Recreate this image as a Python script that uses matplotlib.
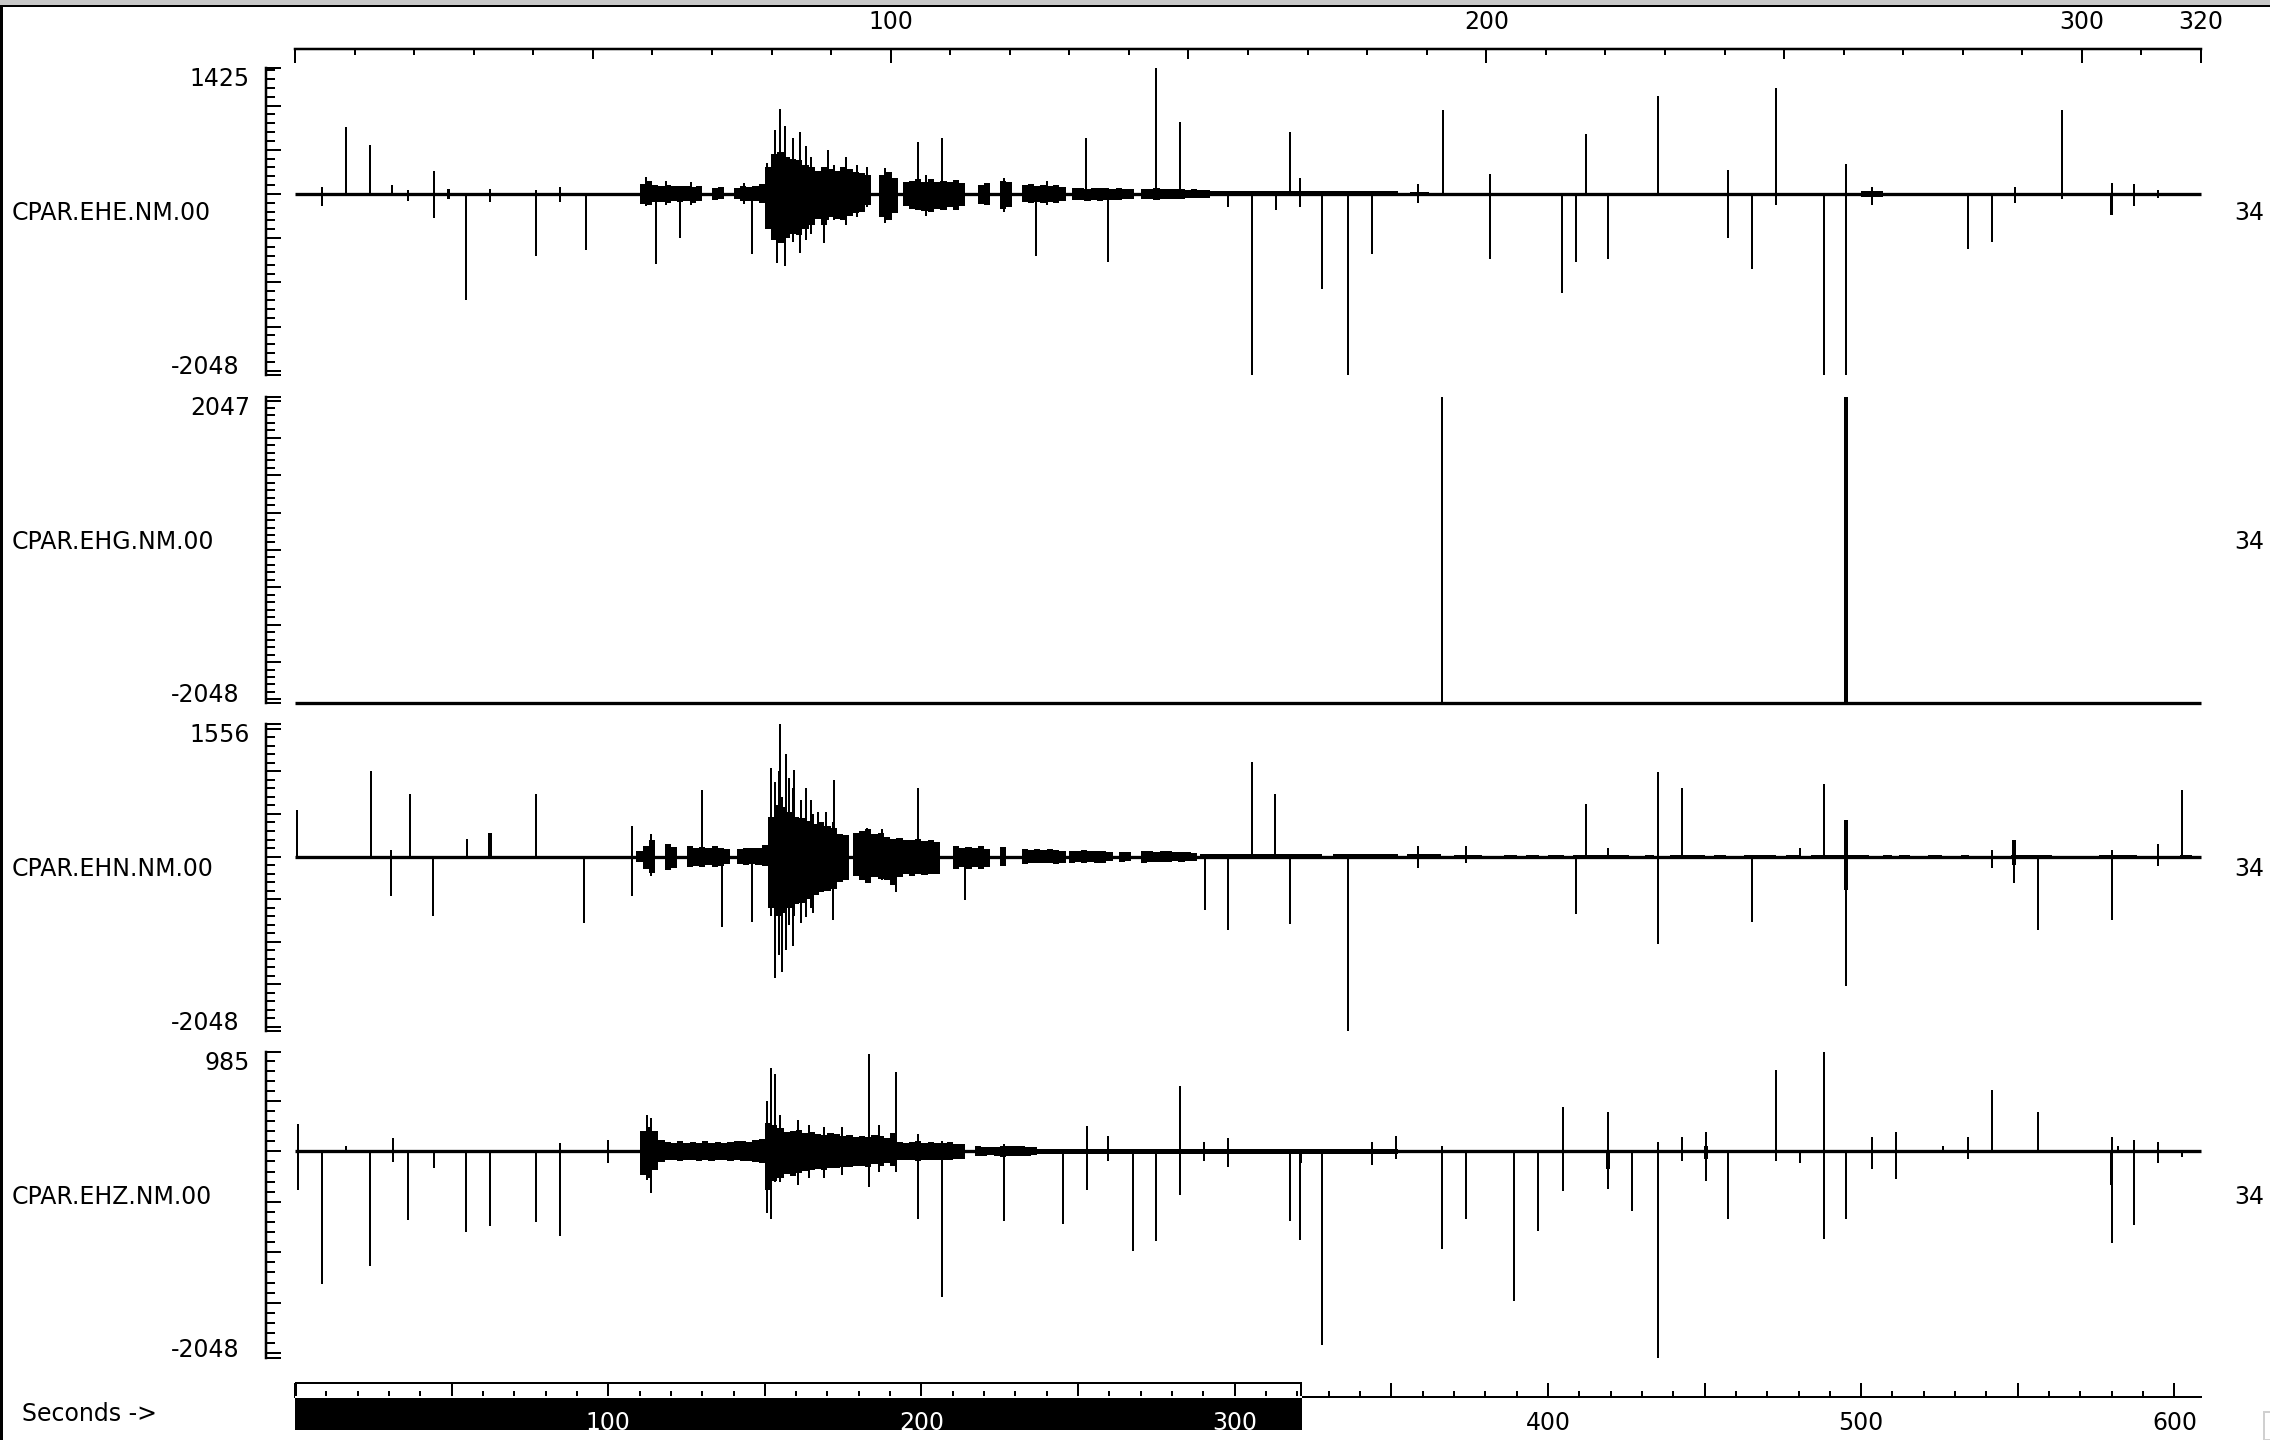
import numpy as np
import matplotlib
matplotlib.use("Agg")
import matplotlib.pyplot as plt
from matplotlib.patches import Rectangle
from matplotlib.ticker import MultipleLocator, FixedLocator, FuncFormatter

# ------------------------------------------------------------------ data
channels = ["CPAR.EHE.NM.00", "CPAR.EHG.NM.00", "CPAR.EHN.NM.00", "CPAR.EHZ.NM.00"]
right_labels = ["34", "34", "34", "34"]
y_top = [1425, 2047, 1556, 985]
y_bottom = [-2048, -2048, -2048, -2048]
trace_base = [0, -2048, 0, 0]
record_seconds = 608.5
top_scale_max = 320
top_tick_labels = [100, 200, 300, 320]
window_end = 321.5
axis_caption = "Seconds ->"

# --- EHE
ehe_spk_t = [8.5, 16.2, 24.1, 31.0, 36.0, 44.4, 54.5, 62.2, 76.9, 84.6,
             92.8, 115.2, 122.9, 146.0, 150.8, 153.3, 154.0, 154.8, 156.5, 159.0,
             161.2, 163.0, 164.7, 168.8, 170.1, 172.0, 176.0, 179.3, 182.6, 198.9,
             206.6, 236.5, 252.5, 259.7, 274.8, 282.5, 297.8, 305.6, 313.3, 317.5,
             320.8, 327.9, 336.2, 343.8, 358.5, 366.4, 381.4, 404.6, 408.9, 412.1,
             419.2, 435.2, 457.5, 465.2, 472.7, 488.1, 495.2, 503.5, 534.0, 541.9,
             549.0, 564.2, 580.0, 587.1, 594.8,
             112.0, 118.5, 126.5, 143.5, 188.5, 201.5, 226.5, 240.0]
ehe_spk_hi = [83, 762, 558, 105, 40, 264, 0, 53, 40, 83,
              0, 0, 0, 0, 350, 720, 0, 961, 770, 630,
              700, 540, 420, 300, 500, 330, 420, 330, 300, 590,
              630, 0, 630, 0, 1420, 810, 0, 0, 0, 697,
              177, 0, 0, 0, 113, 950, 226, 0, 0, 679,
              0, 1108, 271, 0, 1195, 0, 339, 83, 0, 0,
              83, 950, 128, 113, 40,
              196, 150, 130, 120, 290, 210, 180, 150]
ehe_spk_lo = [-140, 0, 0, 0, -75, -275, -1199, -94, -705, -94,
              -633, -792, -501, -680, -300, -500, -785, -400, -810, -540,
              -670, -520, -450, -560, -300, -295, -350, -256, -143, 0,
              0, -700, 0, -765, 0, 0, -143, -2048, -181, 0,
              -143, -1078, -2048, -675, -105, 0, -739, -1123, -765, 0,
              -739, 0, -494, -852, -124, -2048, -2048, -124, -626, -539,
              -100, -60, -241, -132, -40,
              -140, -130, -120, -110, -330, -250, -200, -130]
ehe_env_t = [111, 113, 115, 117, 119, 121, 123, 125, 127, 129,
             134, 136,
             141, 143, 145, 147, 149,
             151, 153, 155, 157, 159, 161, 163, 165, 167, 169, 171, 173, 175, 177, 179, 181, 183,
             187.5, 189.5, 191.5,
             195, 197, 199, 201, 203, 205, 207, 209, 211, 213,
             219, 221,
             226, 228,
             233, 235, 237, 239, 241, 243, 245,
             249, 251, 253, 255, 257, 259, 261, 263, 265, 267,
             271, 273, 275, 277, 279, 281, 283, 285, 287, 289, 291]
ehe_env_hi = [110, 150, 100, 90, 100, 85, 95, 85, 80, 90,
              70, 80,
              70, 90, 80, 95, 110,
              300, 450, 480, 420, 400, 380, 330, 300, 260, 300, 280, 260, 300, 280, 250, 240, 220,
              220, 250, 180,
              130, 150, 170, 140, 170, 130, 150, 140, 160, 120,
              100, 120,
              150, 130,
              100, 110, 90, 105, 95, 100, 80,
              65, 70, 60, 70, 65, 70, 60, 65, 55, 60,
              55, 60, 65, 55, 60, 55, 60, 50, 55, 45, 40]
ehe_env_lo = [-110, -120, -95, -90, -105, -85, -95, -85, -100, -80,
              -65, -60,
              -60, -85, -75, -85, -100,
              -400, -520, -560, -500, -450, -460, -400, -350, -280, -350, -260, -280, -300, -250, -220, -200, -130,
              -260, -290, -220,
              -140, -170, -180, -190, -200, -170, -180, -150, -180, -140,
              -110, -130,
              -170, -150,
              -90, -105, -95, -105, -90, -100, -75,
              -70, -65, -75, -65, -80, -70, -65, -70, -60, -55,
              -60, -55, -65, -60, -60, -55, -60, -50, -50, -45, -40]
ehe_q_start = [292, 356, 500]
ehe_q_end = [352, 362, 507]
ehe_q_amp = [28, 20, 30]
ehe_blk_t = [49.0, 580.0]
ehe_blk_hi = [60, 0]
ehe_blk_lo = [-60, -241]

# --- EHG
ehg_spk_t = [366.3, 495.2]
ehg_spk_hi = [2047, 2047]
ehg_spk_lo = [-2048, -2048]
ehg_blk_t = [495.2]
ehg_blk_hi = [2047]
ehg_blk_lo = [-2048]

# --- EHN
ehn_spk_t = [0.7, 24.3, 30.8, 36.8, 44.2, 54.9, 62.2, 77.0, 92.3, 107.7,
             113.5, 130.0, 136.2, 146.0, 152.1, 153.3, 154.4, 154.9, 155.4, 156.7,
             157.7, 159.0, 159.3, 161.4, 163.0, 164.7, 165.5, 167.1, 169.6, 171.7,
             172.0, 182.6, 187.5, 191.9, 198.9, 214.0, 290.5, 297.8, 305.6, 313.0,
             317.7, 336.1, 358.6, 373.8, 409.0, 412.1, 419.2, 435.2, 442.8, 465.1,
             480.4, 488.2, 495.2, 541.8, 548.8, 556.4, 580.1, 594.7, 602.4]
ehn_spk_hi = [544, 1003, 80, 731, 0, 204, 272, 731, 0, 360,
              262, 783, 0, 0, 1037, 880, 1000, 1556, 700, 1205,
              920, 800, 1017, 665, 802, 665, 500, 528, 528, 400,
              900, 333, 320, 200, 802, 0, 0, 0, 1107, 736,
              0, 0, 125, 125, 0, 618, 106, 994, 806, 0,
              106, 853, 430, 80, 196, 0, 80, 149, 783]
ehn_spk_lo = [0, 0, -459, 0, -697, 0, -30, 0, -782, -458,
              -230, 0, -830, -763, -700, -1420, -1154, 0, -1350, -1096,
              -800, -1045, -700, -783, -704, -600, -665, -450, -400, -743,
              -300, -250, -280, -411, 0, -509, -626, -861, 0, 0,
              -790, -2048, -129, -80, -673, 0, 0, -1025, 0, -763,
              0, 0, -1514, -129, -313, -861, -743, -106, 0]
ehn_env_t = [110, 112, 114,
             119, 121,
             126, 128, 130, 132, 134, 136, 138,
             142, 144, 146, 148, 150,
             152, 154, 156, 158, 160, 162, 164, 166, 168, 170, 172, 174, 176,
             179, 181, 183, 185, 187, 189, 191, 193, 195, 197, 199, 201, 203, 205,
             211, 213, 215, 217, 219, 221,
             226,
             233, 235, 237, 239, 241, 243, 245,
             248, 250, 252, 254, 256, 258, 260,
             264, 266,
             271, 273, 275, 277, 279, 281, 283, 285, 287]
ehn_env_hi = [60, 120, 200,
              150, 110,
              120, 100, 115, 105, 120, 100, 85,
              85, 100, 95, 100, 130,
              470, 600, 580, 520, 470, 450, 420, 380, 400, 360, 330, 270, 250,
              280, 300, 320, 260, 280, 230, 210, 220, 190, 200, 210, 185, 195, 175,
              120, 105, 115, 100, 120, 90,
              110,
              85, 75, 85, 80, 90, 80, 70,
              70, 65, 75, 65, 70, 70, 55,
              55, 50,
              65, 60, 55, 60, 60, 50, 55, 55, 45]
ehn_env_lo = [-60, -150, -196,
              -160, -130,
              -125, -110, -120, -100, -125, -115, -90,
              -90, -100, -85, -100, -110,
              -600, -700, -660, -600, -560, -540, -500, -450, -420, -400, -380, -300, -270,
              -230, -280, -310, -240, -260, -280, -330, -240, -210, -230, -210, -220, -200, -210,
              -150, -125, -145, -120, -150, -125,
              -110,
              -85, -75, -80, -80, -75, -85, -70,
              -80, -65, -75, -65, -70, -80, -55,
              -60, -55,
              -70, -65, -60, -65, -65, -55, -60, -55, -50]
ehn_q_start = [289, 331.5, 355, 370, 386, 393, 400, 408, 431, 439, 453,
               462.5, 476, 484, 507, 512, 521.5, 532, 548, 576, 601.7]
ehn_q_end = [328, 352, 366, 379, 390, 397, 405, 426, 434, 450, 457,
             472.7, 480.6, 502.5, 510, 515.7, 525.8, 534.3, 561, 588, 605.6]
ehn_q_amp = [32, 26, 26, 24, 20, 20, 20, 24, 18, 24, 20,
             24, 20, 24, 18, 18, 18, 15, 20, 20, 15]
ehn_blk_t = [62.2, 495.2, 548.8]
ehn_blk_hi = [272, 430, 196]
ehn_blk_lo = [0, -391, -100]

# --- EHZ
ehz_spk_t = [0.8, 8.5, 16.2, 24.1, 31.4, 36.0, 44.4, 54.5, 62.2, 76.9,
             84.6, 99.8, 112.3, 113.5, 150.8, 152.1, 153.4, 154.9, 160.6, 164.0,
             168.8, 174.5, 183.4, 186.4, 191.9, 198.9, 206.6, 226.4, 245.3, 252.9,
             259.7, 267.4, 275.0, 282.5, 290.3, 297.8, 317.7, 321.0, 328.0, 343.9,
             351.4, 366.2, 374.0, 389.2, 396.9, 404.8, 419.2, 426.9, 435.2, 442.9,
             450.4, 457.5, 472.7, 480.6, 488.1, 495.2, 503.5, 511.0, 526.0, 534.2,
             541.9, 556.5, 580.0, 582.0, 587.1, 594.8, 602.5]
ehz_spk_hi = [267, 0, 50, 0, 132, 0, 0, 0, 0, 0,
              83, 115, 363, 330, 495, 825, 766, 363, 313, 260,
              240, 240, 964, 260, 785, 172, 100, 73, 0, 254,
              155, 0, 0, 650, 92, 132, 0, 0, 0, 92,
              155, 56, 0, 0, 0, 436, 389, 0, 92, 139,
              191, 0, 809, 0, 983, 0, 139, 191, 56, 139,
              610, 389, 139, 50, 116, 92, 0]
ehz_spk_lo = [-380, -1310, 0, -1135, -106, -683, -162, -799, -739, -700,
              -838, -120, -280, -413, -610, -670, -304, -300, -330, -260,
              -260, -230, -356, -200, -200, -673, -1445, -693, -716, -380,
              -100, -990, -891, -436, -100, -158, -693, -875, -1921, -139,
              -76, -967, -670, -1485, -792, -396, -373, -594, -2048, -99,
              -297, -670, -99, -115, -868, -670, -175, -274, 0, -76,
              0, 0, -908, 0, -733, -116, -56]
ehz_env_t = [111, 113, 115, 117, 119, 121, 123, 125, 127, 129,
             131, 133, 135, 137, 139, 141, 143, 145, 147, 149,
             151, 153, 155, 157, 159, 161, 163, 165, 167, 169,
             171, 173, 175, 177, 179, 181, 183, 185, 187, 189,
             191, 193, 195, 197, 199, 201, 203, 205, 207, 209, 211, 213,
             218, 220, 222, 224, 226, 228, 230, 232, 234, 236]
ehz_env_hi = [200, 240, 200, 110, 95, 85, 100, 85, 95, 85,
              100, 85, 95, 85, 95, 100, 105, 95, 115, 125,
              280, 260, 230, 190, 200, 210, 180, 190, 170, 160,
              180, 170, 150, 160, 140, 150, 140, 160, 150, 130,
              180, 95, 85, 95, 105, 85, 95, 80, 85, 95, 75, 70,
              55, 45, 40, 45, 55, 50, 50, 55, 45, 40]
ehz_env_lo = [-230, -260, -180, -110, -85, -85, -95, -85, -85, -95,
              -85, -95, -85, -85, -95, -85, -95, -100, -105, -115,
              -380, -290, -260, -220, -240, -210, -190, -180, -170, -180,
              -160, -160, -150, -150, -140, -140, -150, -130, -140, -120,
              -140, -90, -85, -90, -95, -85, -85, -90, -85, -90, -80, -80,
              -50, -45, -40, -50, -55, -50, -45, -50, -45, -40]
ehz_q_start = [237, 355, 368, 395, 440, 470, 500, 530, 545, 575]
ehz_q_end = [352, 360, 380, 400, 447, 485, 520, 540, 560, 600]
ehz_q_amp = [22, 16, 16, 16, 16, 18, 18, 16, 16, 18]
ehz_blk_t = [321.0, 419.2, 450.4, 580.0]
ehz_blk_hi = [0, 0, 50, 0]
ehz_blk_lo = [-115, -175, -80, -330]

traces = [
    dict(spk=(ehe_spk_t, ehe_spk_hi, ehe_spk_lo), env=(ehe_env_t, ehe_env_hi, ehe_env_lo),
         quiet=(ehe_q_start, ehe_q_end, ehe_q_amp), blk=(ehe_blk_t, ehe_blk_hi, ehe_blk_lo)),
    dict(spk=(ehg_spk_t, ehg_spk_hi, ehg_spk_lo), env=([], [], []),
         quiet=([], [], []), blk=(ehg_blk_t, ehg_blk_hi, ehg_blk_lo)),
    dict(spk=(ehn_spk_t, ehn_spk_hi, ehn_spk_lo), env=(ehn_env_t, ehn_env_hi, ehn_env_lo),
         quiet=(ehn_q_start, ehn_q_end, ehn_q_amp), blk=(ehn_blk_t, ehn_blk_hi, ehn_blk_lo)),
    dict(spk=(ehz_spk_t, ehz_spk_hi, ehz_spk_lo), env=(ehz_env_t, ehz_env_hi, ehz_env_lo),
         quiet=(ehz_q_start, ehz_q_end, ehz_q_amp), blk=(ehz_blk_t, ehz_blk_hi, ehz_blk_lo)),
]

# ------------------------------------------------------------------ layout / style
W, H, DPI = 2270, 1440, 100
PX = 72.0 / DPI          # points per pixel
FS = 17
X0, X1 = 295, 2201
PANEL_TOP = [68, 397, 724, 1052]
PANEL_BOT = [375, 703, 1031, 1358]
ENV_W = 2.0
BLK_W = 1.1

plt.rcParams["font.family"] = ["DejaVu Sans"]
fig = plt.figure(figsize=(W / DPI, H / DPI), dpi=DPI, facecolor="white")


def fig_rect(x0, ytop, x1, ybot):
    return [x0 / W, 1 - ybot / H, (x1 - x0) / W, (ybot - ytop) / H]


for i, tr in enumerate(traces):
    ax = fig.add_axes(fig_rect(X0, PANEL_TOP[i], X1, PANEL_BOT[i]))
    ax.patch.set_visible(False)
    ax.set_xlim(0, record_seconds)
    ax.set_ylim(y_bottom[i], y_top[i])
    for s in ["top", "right", "bottom"]:
        ax.spines[s].set_visible(False)
    ax.spines["left"].set_position(("outward", 29 * PX))
    ax.spines["left"].set_linewidth(2.5 * PX)
    ax.xaxis.set_visible(False)
    majors = [y_bottom[i]] + [v for v in range(-2000, 2001, 500) if y_bottom[i] < v < y_top[i]] + [y_top[i]]
    ax.yaxis.set_major_locator(FixedLocator(majors))
    ax.yaxis.set_minor_locator(MultipleLocator(100))
    ax.tick_params(axis="y", which="major", direction="in", length=15 * PX, width=2 * PX,
                   labelleft=False, color="black")
    ax.tick_params(axis="y", which="minor", direction="in", length=9 * PX, width=2 * PX, color="black")

    base = trace_base[i]
    ax.plot([0, record_seconds], [base, base], color="black", lw=3.3 * PX,
            solid_capstyle="butt", zorder=3, clip_on=False)

    qs, qe, qa = tr["quiet"]
    if len(qs):
        qs, qe, qa = np.asarray(qs, float), np.asarray(qe, float), np.asarray(qa, float)
        ax.bar(qs, 2 * qa, bottom=-qa, width=qe - qs, align="edge", color="black", linewidth=0, zorder=3)

    et, eh, el = tr["env"]
    if len(et):
        et, eh, el = np.asarray(et, float), np.asarray(eh, float), np.asarray(el, float)
        ax.bar(et, eh - el, bottom=el, width=ENV_W, color="black", linewidth=0, zorder=3)

    bt, bh, bl = tr["blk"]
    if len(bt):
        bt, bh, bl = np.asarray(bt, float), np.asarray(bh, float), np.asarray(bl, float)
        ax.bar(bt, bh - bl, bottom=bl, width=BLK_W, color="black", linewidth=0, zorder=3)

    st, sh, sl = tr["spk"]
    ax.vlines(st, sl, sh, color="black", lw=2 * PX, zorder=4)

    ax.annotate(f"{y_top[i]}", xy=(0, y_top[i]), xycoords=("axes fraction", "data"),
                xytext=(-45 * PX, -11 * PX), textcoords="offset points",
                ha="right", va="center", fontsize=FS)
    ax.annotate(f"{y_bottom[i]}", xy=(0, y_bottom[i]), xycoords=("axes fraction", "data"),
                xytext=(-55 * PX, 8 * PX), textcoords="offset points",
                ha="right", va="center", fontsize=FS)

    yc = (PANEL_TOP[i] + PANEL_BOT[i]) / 2 - 8
    fig.text(12 / W, 1 - yc / H, channels[i], ha="left", va="center", fontsize=FS)
    fig.text(2234 / W, 1 - yc / H, right_labels[i], ha="left", va="center", fontsize=FS)

# ------------------------------------------------------------------ top scale
axt = fig.add_axes(fig_rect(X0, 49, X1, 63))
axt.patch.set_visible(False)
axt.set_xlim(0, top_scale_max)
for s in ["left", "right", "bottom"]:
    axt.spines[s].set_visible(False)
axt.spines["top"].set_linewidth(2.5 * PX)
axt.yaxis.set_visible(False)
axt.xaxis.set_ticks_position("top")
axt.xaxis.set_major_locator(FixedLocator([0] + top_tick_labels))
axt.xaxis.set_major_formatter(FuncFormatter(lambda v, p: "" if v == 0 else f"{v:.0f}"))
axt.xaxis.set_minor_locator(MultipleLocator(10))
axt.tick_params(axis="x", which="major", direction="in", length=14 * PX, width=2 * PX,
                pad=15 * PX, labelsize=FS, top=True, bottom=False, labeltop=True, labelbottom=False)
axt.tick_params(axis="x", which="minor", direction="in", length=6 * PX, width=2 * PX,
                top=True, bottom=False)

axt2 = fig.add_axes(fig_rect(X0, 49, X1, 63))
axt2.patch.set_visible(False)
axt2.set_xlim(0, top_scale_max)
for s in ["left", "right", "bottom", "top"]:
    axt2.spines[s].set_visible(False)
axt2.yaxis.set_visible(False)
axt2.xaxis.set_ticks_position("top")
axt2.xaxis.set_major_locator(FixedLocator([50, 150, 250]))
axt2.tick_params(axis="x", which="major", direction="in", length=10 * PX, width=2 * PX,
                 top=True, bottom=False, labeltop=False, labelbottom=False)

# ------------------------------------------------------------------ bottom time scale
axb = fig.add_axes(fig_rect(X0, 1382, X1, 1430))
axb.patch.set_visible(False)
axb.set_xlim(0, record_seconds)
axb.set_ylim(0, 48)
for s in ["left", "right", "top"]:
    axb.spines[s].set_visible(False)
axb.spines["bottom"].set_position(("data", 33))
axb.spines["bottom"].set_linewidth(2 * PX)
axb.yaxis.set_visible(False)
axb.xaxis.set_major_locator(MultipleLocator(50))
axb.xaxis.set_minor_locator(MultipleLocator(10))
axb.xaxis.set_major_formatter(FuncFormatter(lambda v, p: f"{v:.0f}" if (v > 0 and v % 100 == 0) else ""))
axb.tick_params(axis="x", which="major", direction="in", length=14 * PX, width=2 * PX,
                pad=14 * PX, labelsize=FS)
axb.tick_params(axis="x", which="minor", direction="in", length=6 * PX, width=2 * PX)
s_per_px = record_seconds / (X1 - X0)
axb.add_patch(Rectangle((0, 0), window_end, 48, facecolor="black", edgecolor="none", zorder=0.5))
axb.add_patch(Rectangle((2 * s_per_px, 34), window_end - 4 * s_per_px, 12, facecolor="white",
                        edgecolor="none", zorder=0.6))
axb.add_patch(Rectangle((0, 31.6), window_end, 2.6, facecolor="white", edgecolor="none", zorder=3))
fig.canvas.draw()
for loc, lab in zip(axb.get_xticks(), axb.get_xticklabels()):
    if loc < window_end:
        lab.set_color("white")
fig.text(22 / W, 1 - 1414 / H, axis_caption, ha="left", va="center", fontsize=FS)

# ------------------------------------------------------------------ window frame
fig.add_artist(Rectangle((0, 1 - 5 / H), 1, 5 / H, transform=fig.transFigure,
                         facecolor="#c8c8c8", edgecolor="none"))
fig.add_artist(Rectangle((0, 1 - 7 / H), 1, 2 / H, transform=fig.transFigure,
                         facecolor="black", edgecolor="none"))
fig.add_artist(Rectangle((0, 0), 2.5 / W, 1 - 5 / H, transform=fig.transFigure,
                         facecolor="black", edgecolor="none"))
fig.add_artist(Rectangle((2264 / W, 0), 10 / W, 28 / H, transform=fig.transFigure,
                         facecolor="none", edgecolor="#d0d0d0", lw=2 * PX))

fig.savefig("out.png", dpi=DPI, facecolor="white")
